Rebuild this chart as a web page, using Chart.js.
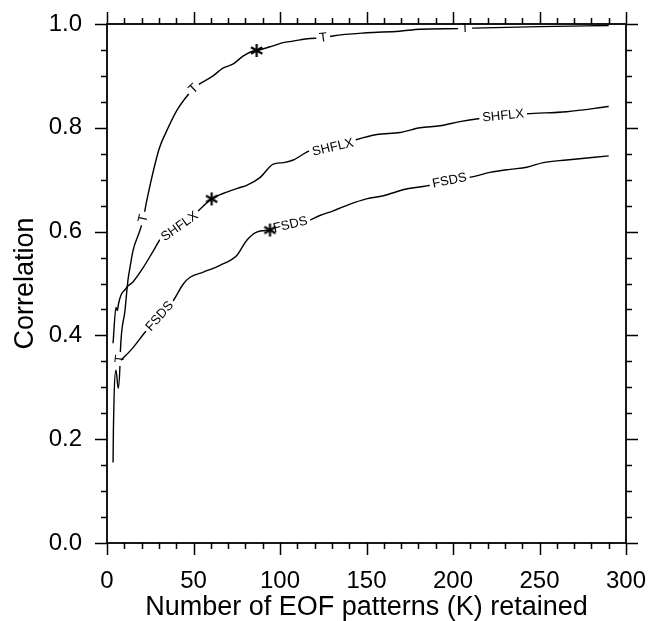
<!DOCTYPE html>
<html>
<head>
<meta charset="utf-8">
<script src="https://cdn.jsdelivr.net/npm/chart.js@4.4.0/dist/chart.umd.min.js"></script>
<style>
  body { margin: 0; background: #fff; }
  #c { display: block; }
</style>
</head>
<body>
<canvas id="c" width="648" height="621"></canvas>
<script>
// correlation vs number of retained EOF patterns
const tK = [3.5, 3.7, 5.2, 6.5, 7.5, 7.7, 10.4, 12.1, 13.3, 15, 19, 21, 23, 30.2, 34.5, 40.3, 45, 50, 53.8, 61.3, 67, 73, 78.6, 84.4, 86.5, 96, 101.7, 107.5, 117.3, 125, 130.6, 150, 169, 181, 204, 211.6, 250, 290];
const tC = [0.155, 0.217, 0.333, 0.298, 0.342, 0.367, 0.448, 0.506, 0.531, 0.563, 0.602, 0.625, 0.66, 0.76, 0.794, 0.833, 0.856, 0.875, 0.885, 0.9, 0.915, 0.923, 0.938, 0.948, 0.949, 0.958, 0.964, 0.967, 0.972, 0.973, 0.977, 0.983, 0.986, 0.99, 0.991, 0.992, 0.995, 0.997];

const shK = [3.5, 5.2, 6.0, 6.6, 8.1, 10.4, 12.1, 15, 21, 26.8, 31.6, 42, 51.8, 60.5, 69.2, 76.9, 80.7, 88.4, 96.1, 102, 107.7, 117.3, 130.6, 144, 156, 169.4, 181, 192.5, 204, 215.6, 229, 242.6, 265.7, 290];
const shC = [0.385, 0.454, 0.448, 0.46, 0.478, 0.488, 0.495, 0.503, 0.531, 0.563, 0.589, 0.61, 0.637, 0.663, 0.676, 0.685, 0.689, 0.704, 0.73, 0.733, 0.738, 0.756, 0.762, 0.777, 0.787, 0.791, 0.8, 0.804, 0.812, 0.818, 0.823, 0.827, 0.831, 0.841];

const fsK = [8.1, 15.2, 22, 29.5, 38.3, 44.1, 48, 55.7, 65.3, 75, 80.7, 86.5, 94.2, 105.8, 116.4, 123, 130.8, 140.5, 150, 159.7, 173, 184.8, 198, 211.7, 221.4, 233, 242.6, 252.2, 265.7, 290];
const fsC = [0.352, 0.377, 0.406, 0.433, 0.467, 0.499, 0.512, 0.522, 0.535, 0.554, 0.583, 0.599, 0.603, 0.613, 0.621, 0.631, 0.64, 0.653, 0.663, 0.669, 0.682, 0.688, 0.698, 0.706, 0.714, 0.72, 0.724, 0.733, 0.738, 0.746];

// chosen K marked with a star on each curve
const starK = [86.5, 60.5, 94.2];
const starC = [0.949, 0.663, 0.603];

// where the inline curve labels sit
const tLabelK  = [7.6, 21, 50, 125, 207];
const shLabelK = [42, 130.6, 229];
const fsLabelK = [30.5, 106, 198];

const xMinor = 10, yMinor = 0.05;
const FONT = "'Liberation Sans', Arial, Helvetica, sans-serif";

Chart.defaults.font.family = FONT;
Chart.defaults.color = '#000';

const pts = (ks, cs) => ks.map((k, i) => ({x: k, y: cs[i]}));

function curveAt(ks, cs, k) {
    if (k <= ks[0]) return cs[0];
    for (let i = 1; i < ks.length; i++) {
        if (k <= ks[i]) {
            let f = (k - ks[i-1]) / (ks[i] - ks[i-1]);
            return cs[i-1] + f * (cs[i] - cs[i-1]);
        }
    }
    return cs[cs.length-1];
}

function makeStar(size) {
    let c = document.createElement('canvas');
    c.width = c.height = size;
    let g = c.getContext('2d');
    g.strokeStyle = '#000';
    g.lineWidth = 2.2;
    let r = size/2 - 1;
    for (let i = 0; i < 3; i++) {
        let a = Math.PI/2 + i*Math.PI/3;
        g.beginPath();
        g.moveTo(size/2 + r*Math.cos(a), size/2 + r*Math.sin(a));
        g.lineTo(size/2 - r*Math.cos(a), size/2 - r*Math.sin(a));
        g.stroke();
    }
    return c;
}

const lineLabels = {
    0: {ks: tK, cs: tC, at: tLabelK, text: 'T'},
    1: {ks: shK, cs: shC, at: shLabelK, text: 'SHFLX'},
    2: {ks: fsK, cs: fsC, at: fsLabelK, text: 'FSDS'}
};

const ncl = {
    id: 'ncl',
    afterDatasetDraw(chart, args) {
        let lab = lineLabels[args.index];
        if (!lab) return;
        let xs = chart.scales.x, ys = chart.scales.y, ctx = chart.ctx;
        ctx.font = '13px ' + FONT;
        for (let k of lab.at) {
            let px = xs.getPixelForValue(k), py = ys.getPixelForValue(curveAt(lab.ks, lab.cs, k));
            let x0 = xs.getPixelForValue(k - 1.5), y0 = ys.getPixelForValue(curveAt(lab.ks, lab.cs, k - 1.5));
            let x1 = xs.getPixelForValue(k + 1.5), y1 = ys.getPixelForValue(curveAt(lab.ks, lab.cs, k + 1.5));
            let a = Math.atan2(y1 - y0, x1 - x0);
            let w = ctx.measureText(lab.text).width;
            ctx.save();
            ctx.translate(px, py);
            ctx.rotate(a);
            ctx.fillStyle = '#fff';
            ctx.fillRect(-w/2 - 3, -6, w + 6, 12);
            ctx.fillStyle = '#000';
            ctx.textAlign = 'center';
            ctx.textBaseline = 'middle';
            ctx.fillText(lab.text, 0, 0);
            ctx.restore();
        }
    },
    afterDraw(chart) {
        let {ctx, chartArea: a} = chart;
        let xs = chart.scales.x, ys = chart.scales.y;
        ctx.save();
        ctx.strokeStyle = '#000';
        ctx.lineWidth = 1.5;
        ctx.beginPath();
        for (let i = 0; i * xMinor <= xs.max + 1e-9; i++) {
            let v = i * xMinor, len = (v % 50 === 0) ? 12 : 6;
            let p = Math.round(xs.getPixelForValue(v)) + 0.5;
            ctx.moveTo(p, a.bottom); ctx.lineTo(p, a.bottom + len);
            ctx.moveTo(p, a.top);    ctx.lineTo(p, a.top - len);
        }
        for (let i = 0; i * yMinor <= ys.max + 1e-9; i++) {
            let len = (i % 4 === 0) ? 12 : 6;
            let p = Math.round(ys.getPixelForValue(i * yMinor)) + 0.5;
            ctx.moveTo(a.left, p);  ctx.lineTo(a.left - len, p);
            ctx.moveTo(a.right, p); ctx.lineTo(a.right + len, p);
        }
        ctx.stroke();
        ctx.lineWidth = 1.8;
        ctx.strokeRect(a.left, a.top, a.right - a.left, a.bottom - a.top);
        ctx.restore();
    }
};

const curve = (data, order) => ({
    data: data, order: order,
    borderColor: '#000', borderWidth: 1.4,
    pointRadius: 0, fill: false,
    cubicInterpolationMode: 'monotone'
});

new Chart(document.getElementById('c'), {
    type: 'line',
    data: {
        datasets: [
            curve(pts(tK, tC), 3),
            curve(pts(shK, shC), 2),
            curve(pts(fsK, fsC), 1),
            {
                data: pts(starK, starC), order: 0,
                showLine: false,
                pointStyle: makeStar(15),
                pointRadius: 7
            }
        ]
    },
    options: {
        responsive: false,
        animation: false,
        layout: {padding: {top: 24, right: 22, left: 0, bottom: 0}},
        plugins: {legend: {display: false}, tooltip: {enabled: false}},
        scales: {
            x: {
                type: 'linear', min: 0, max: 300,
                border: {display: false},
                grid: {display: false, drawTicks: false},
                ticks: {stepSize: 50, padding: 24, maxRotation: 0, font: {size: 24}},
                title: {display: true, text: 'Number of EOF patterns (K) retained',
                        font: {size: 27, lineHeight: 1.0}, padding: {top: 0, bottom: 0}},
                afterFit(s) { s.height = 78; s.paddingLeft = 0; s.paddingRight = 0; }
            },
            y: {
                min: 0, max: 1,
                border: {display: false},
                grid: {display: false, drawTicks: false},
                ticks: {stepSize: 0.2, padding: 25, font: {size: 24},
                        callback: v => v.toFixed(1)},
                title: {display: true, text: 'Correlation',
                        font: {size: 27}, padding: {top: 9, bottom: 0}},
                afterFit(s) { s.width = 107; s.paddingTop = 0; s.paddingBottom = 0; }
            }
        }
    },
    plugins: [ncl]
});
</script>
</body>
</html>
